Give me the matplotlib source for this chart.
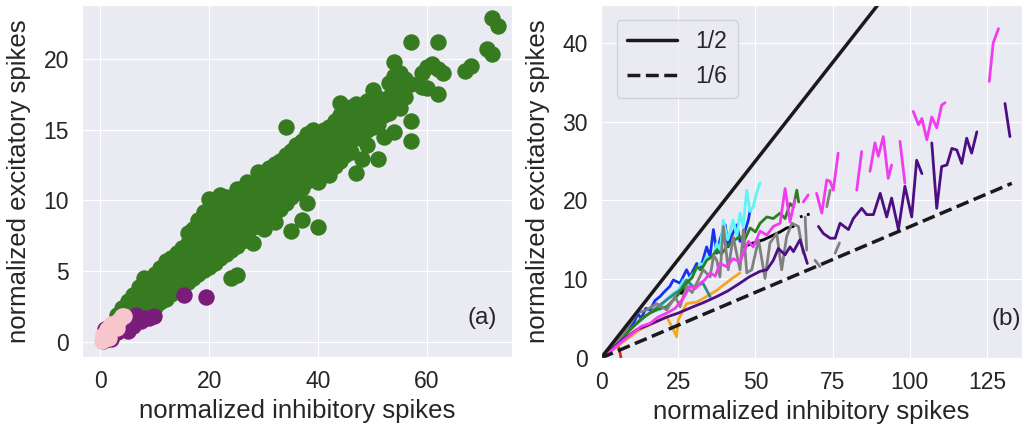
import matplotlib
matplotlib.use("Agg")
import matplotlib.pyplot as plt
import seaborn as sns
import numpy as np

nan = np.nan

# ---- panel (a): scatter clouds ----
# green cloud, typed column by column (x value, list of y values)
green_col_x = [1, 2, 3, 4, 5, 6, 7, 8, 9, 10, 11, 12, 13, 14, 15, 16, 17, 18, 19, 20,
               21, 22, 23, 24, 25, 26, 27, 28, 29, 30, 31, 32, 33, 34, 35, 36, 37, 38,
               39, 40, 41, 42, 43, 44, 45, 46, 47, 48, 49, 50, 51, 52, 53, 54, 55, 56,
               57, 59, 60, 61, 62, 63, 67, 68, 71, 72, 73]
green_col_y = [
    [0.2, 0.5, 0.8], [0.4, 0.8, 1.1], [0.7, 1.1, 1.5, 1.9], [0.9, 1.4, 1.9, 2.4],
    [1.2, 1.8, 2.4, 2.9], [1.4, 2.1, 2.8, 3.3], [1.7, 2.5, 3.2, 3.9], [2.0, 2.8, 3.6, 4.5],
    [2.2, 3.0, 3.8, 4.4], [2.5, 3.3, 4.1, 4.8], [2.8, 3.6, 4.4, 5.2], [3.0, 3.9, 4.7, 5.7],
    [3.4, 4.2, 5.0, 5.9], [3.7, 4.5, 5.4, 6.3], [4.0, 4.8, 5.7, 6.6], [4.2, 5.1, 6.0, 7.0, 7.7],
    [4.5, 5.4, 6.3, 7.3, 8.0], [4.8, 5.7, 6.6, 7.6, 8.6], [5.1, 6.0, 6.9, 8.0, 9.2],
    [5.3, 6.3, 7.2, 8.3, 9.4, 10.1], [5.6, 6.6, 7.5, 8.6, 9.7], [5.9, 6.9, 7.9, 9.0, 10.4],
    [6.2, 7.2, 8.2, 9.3, 10.2], [4.5, 6.5, 7.5, 8.5, 9.6], [4.7, 6.8, 7.9, 8.9, 10.0, 10.8],
    [7.1, 8.2, 9.2, 10.3], [7.4, 8.5, 9.5, 10.6, 11.3], [7.0, 8.1, 9.0, 10.0, 11.0],
    [8.2, 9.2, 10.2, 11.2, 12.0], [8.0, 9.0, 10.0, 11.0, 12.0], [8.8, 10.0, 11.2, 12.3],
    [8.5, 9.5, 10.5, 11.5, 12.6], [9.4, 10.5, 11.6, 12.8], [9.8, 10.9, 12.0, 13.2, 15.2],
    [7.8, 10.2, 11.3, 12.4, 13.5], [10.5, 11.7, 12.8, 13.9], [8.6, 10.9, 12.0, 13.1, 14.2],
    [9.8, 11.4, 12.5, 13.6, 14.7], [11.6, 12.7, 13.8, 15.0], [8.1, 11.3, 12.4, 13.5, 14.5],
    [12.0, 13.1, 14.2, 15.0], [11.8, 12.9, 14.0, 15.2], [12.4, 13.5, 14.5, 15.6],
    [12.8, 13.9, 15.0, 16.0, 16.9], [13.2, 14.3, 15.3, 16.3], [13.4, 14.5, 15.6, 16.6],
    [11.9, 14.4, 15.5, 16.8], [12.9, 14.7, 15.8], [13.9, 15.0, 16.1, 17.0],
    [15.2, 16.2, 17.8], [12.9, 15.4, 16.5, 17.2], [14.5, 16.0, 17.1], [16.2, 17.3, 18.3],
    [14.8, 17.0, 18.8, 19.8], [16.5, 17.8, 19.0], [17.3, 18.6], [14.2, 15.6, 18.2, 21.2],
    [18.0, 19.0], [17.9, 19.4], [19.6], [17.5, 19.3, 21.2], [19.0], [19.1], [19.5],
    [20.7], [22.9, 20.3], [22.3],
]

purple_x = [0.5, 1.0, 1.5, 2.0, 2.5, 3.0, 3.5, 4.0, 4.5, 5.0, 5.5, 6.0, 6.5, 7.0, 7.5,
            8.0, 9.0, 9.8, 15.3, 19.4, 0.8, 3.0, 5.0, 2.0, 6.0]
purple_y = [0.1, 0.2, 0.3, 0.4, 0.6, 0.7, 0.9, 1.0, 1.2, 1.3, 1.4, 1.6, 1.9, 1.6, 1.5,
            1.7, 1.7, 1.8, 3.3, 3.2, 0.9, 1.1, 0.8, 0.2, 1.1]

pink_x = [0.2, 0.5, 0.8, 1.0, 1.3, 1.6, 2.0, 2.3, 2.6, 3.0, 3.3, 3.6, 4.0, 4.3, 1.2,
          2.0, 0.5, 3.0, 1.5]
pink_y = [0.05, 0.2, 0.3, 0.5, 0.6, 0.8, 0.9, 1.1, 1.2, 1.4, 1.5, 1.6, 1.8, 1.8, 0.9,
          1.3, 0.5, 1.0, 0.3]

# ---- panel (b): trajectories ----
indigo_x = [0, 3, 7, 11.6, 16, 21.3, 25, 29.8, 33, 37.5, 41, 45, 48, 51.5, 53.7, 55.8,
            57.4, 59.6, 61.2, 62.3, 64.4, 66.8, nan, 70.4, 72, 74.2, 75.8, 77.4, 80.1,
            81.7, 84.4, 86, 88.2, 90.4, 92.5, 94.1, 96.3, 98.4, 100.6, 102.2, 103.9, nan,
            107.1, 108.7, 110.3, 112, 113.6, 115.2, 116.8, 118.4, 120, 121.7, nan, 130.8, 132.4]
indigo_y = [0, 1.0, 2.3, 3.6, 4.3, 5.2, 5.7, 6.5, 7.0, 7.8, 8.5, 9.5, 10.3, 11.0, 11.2, 12.4,
            13.9, 13.1, 14.1, 13.5, 15.0, 12.0, nan, 16.7, 15.8, 15.2, 15.2, 17.1, 16.3,
            17.7, 19.0, 18.2, 18.2, 20.9, 17.9, 20.3, 16.3, 21.8, 17.9, 25.1, 23.4, nan,
            27.3, 19.0, 24.3, 24.5, 26.6, 26.4, 24.7, 27.9, 26.0, 28.7, nan, 32.3, 28.1]

magenta_x = [0, 2.9, 6.2, 10.4, 13, 15.9, 18.5, 21.3, 24, 26.7, 28.8, 30.5, 32.1, 33.6,
             35.3, 37, 38.5, 40.7, 42.8, 45, 47.7, 49.3, 51.5, 53.7, 55.8, 58, 59.6, 61.2,
             62.8, nan, 65.5, 67.1, nan, 69.8, 71.5, 73.1, 74.2, 75.2, 76.8, nan, 82.8,
             84.4, nan, 87.1, 88.7, 89.8, 91.4, 93, 94.1, nan, 96.8, 98.4, nan, 101.1,
             102.8, 103.9, 105.5, 107.1, 108.7, 110.3, 111.4, nan, 125.7, 127, 128.7]
magenta_y = [0, 0.8, 1.9, 3.2, 4.0, 4.4, 5.2, 5.7, 6.3, 7.6, 9.1, 8.8, 9.5, 9.9,
             10.8, 10.4, 12.0, 11.6, 12.6, 12.2, 14.8, 14.1, 16.1, 15.6, 16.7, 17.1, 21.5,
             17.3, 20.1, nan, 19.8, 20.7, nan, 20.9, 18.4, 22.6, 22.4, 21.3, 26.0, nan,
             21.3, 26.2, nan, 23.7, 27.3, 25.6, 28.1, 22.8, 24.5, nan, 27.5, 22.2, nan,
             31.3, 29.6, 30.4, 27.7, 30.6, 29.2, 32.1, 32.4, nan, 35.1, 40.0, 41.8]

blue_x = [0, 2.9, 6, 8, 10.5, 12, 13, 14.5, 15.9, 17.5, 19.1, 20.5, 22.3, 23.4, 25.6,
          27.7, 28.8, 31, 32.1, 34.2, 35.3, 36.4, 37.5, 38.5, 40.2, 41.2, 42.3, 44, 45,
          46.1, 47.7, 48.3]
blue_y = [0, 1.2, 2.8, 3.2, 4.4, 5.6, 5.0, 6.3, 6.1, 7.3, 7.8, 8.4, 9.1, 9.9, 9.5,
          11.2, 10.3, 12.0, 11.2, 14.1, 12.9, 16.3, 13.3, 15.0, 16.9, 14.1, 15.5, 16.9, 14.8,
          15.4, 17.5, 18.8]

cyan_x = [17, 19.1, 21, 23.4, 25, 26.7, 28, 29, 31, 32.1, 33, 34.2, 36, 37.5, 38.5, 39.6,
          41, 42.8, 44, 45, 46, 47.2, 48.2, 49.3, 50.4, 51.5]
cyan_y = [6.1, 6.1, 7.4, 8.2, 8.6, 9.9, 9.2, 10.3, 11.2, 12.0, 11.8, 12.9, 12.5, 14.6,
          13.6, 17.5, 15.0, 17.5, 15.4, 18.4, 16.7, 21.3, 18.6, 19.2, 21.0, 22.2]

green_x = [3, 6, 10.5, 13, 15.9, 18.5, 21.3, 24.5, 26, 27.7, 29.5, 31, 32.5, 34.2, 36,
           37.5, 39, 40.7, 43, 45, 46.5, 48.3, 50, 51.5, 53.7, 55.8, 58, 59.6, 61.2, 62.3,
           63.4, 64]
green_y = [1.0, 2.2, 4.0, 5.0, 5.7, 6.2, 6.5, 7.8, 8.6, 9.5, 10.2, 11.6, 11.2, 12.4, 12.9,
           13.7, 13.2, 14.1, 14.9, 15.4, 15.0, 16.5, 16.0, 17.1, 17.9, 17.7, 18.4, 17.7,
           19.6, 19.2, 21.3, 19.8]

gray_x = [2, 5, 8.3, 11.6, 14.8, 18, 21.3, 24, 25.6, 27.7, 29.5, 31, 33.1, 35.3, 36.5,
          37.5, 38.5, 39.6, 41.2, 42.8, 45, 46.1, 47.2, 48.8, 51, 53.1, 54.7, 56.9, 58.5,
          60.1, 61.8, 63.9, 65.5, nan, 66.1, 66.6, nan, 69.3, 70.9, nan, 73.1, 74.2, nan,
          75.8, 77.2]
gray_y = [0.8, 2.0, 3.6, 5.7, 6.1, 6.9, 6.1, 7.8, 6.5, 9.1, 8.3, 9.5, 11.2, 10.3, 13.0,
          12.4, 10.3, 16.7, 11.2, 15.4, 11.2, 16.3, 10.8, 11.2, 15.0, 10.1, 14.6, 15.8,
          11.2, 15.4, 17.1, 16.7, 13.3, nan, 17.9, 13.7, nan, 12.4, 11.6, nan, 19.2, 21.3,
          nan, 13.3, 14.6]

black_x = [26, 28, nan, 46.1, 49.3, 52.6, 55.8, 58, 60.1, 62.3]
black_y = [8.2, 9.0, nan, 14.1, 14.6, 15.0, 15.6, 16.0, 16.5, 16.7]
black_tail_x = [64.4, 66, 68.8]
black_tail_y = [17.9, 18.1, 18.4]

orange_x = [3, 7, 12.6, 16.9, 21.3, 23.4, 24.5, 25, 27.7, 31, 34.2, 37.5, 41.8, 45]
orange_y = [0.8, 2.0, 3.6, 4.4, 5.2, 3.6, 2.7, 4.8, 6.9, 7.1, 7.8, 8.6, 9.9, 10.8]

teal_x = [5, 10.5, 15, 20, 24, 25.6, 27.7, 30, 33, 35.3]
teal_y = [2.0, 4.0, 5.5, 7.0, 8.2, 8.6, 9.9, 9.0, 9.5, 7.8]

red_x = [5.5, 6.2, 6.6]
red_y = [1.6, 0.6, -0.3]

yellow_x = [7, 9, 11]
yellow_y = [3.3, 4.3, 5.2]

ref_ratios = [1 / 2, 1 / 6]
ref_labels = ['1/2', '1/6']
ref_x = np.array([0, 133])

# ---- style ----
sns.set_style('darkgrid', {'grid.linewidth': 1.5})
plt.rcParams['font.family'] = ['Liberation Sans', 'DejaVu Sans']
plt.rcParams['axes.labelcolor'] = '#262626'
plt.rcParams['xtick.color'] = '#262626'
plt.rcParams['ytick.color'] = '#262626'

fig = plt.figure(figsize=(10.27, 4.29), dpi=100)
ax1 = fig.add_axes([0.0798, 0.168, 0.4187, 0.8205])
ax2 = fig.add_axes([0.5852, 0.1655, 0.4099, 0.8228])

# panel (a)
gx = [x for x, ys in zip(green_col_x, green_col_y) for _ in ys]
gy = [y for ys in green_col_y for y in ys]
ax1.scatter(gx, gy, s=140, color='#377b21', linewidths=0)
ax1.scatter(purple_x, purple_y, s=140, color='#7a1c7a', linewidths=0)
ax1.scatter(pink_x, pink_y, s=140, color='#f7c5cc', linewidths=0)
ax1.set_xlim(-3.4, 75.6)
ax1.set_ylim(-1.06, 23.8)
ax1.set_xticks([0, 20, 40, 60])
ax1.set_yticks([0, 5, 10, 15, 20])
ax1.set_xlabel('normalized inhibitory spikes', fontsize=18.5, labelpad=4)
ax1.set_ylabel('normalized excitatory spikes', fontsize=18.5, labelpad=9)
ax1.tick_params(labelsize=16.5, pad=6)
ax1.text(0.965, 0.11, '(a)', transform=ax1.transAxes, fontsize=17.5, ha='right', va='center')

# panel (b)
lw = 2.0
ax2.plot(red_x, red_y, color='#d62728', lw=lw)
ax2.plot(yellow_x, yellow_y, color='#f0e040', lw=lw)
ax2.plot(orange_x, orange_y, color='#f5a623', lw=lw)
ax2.plot(blue_x, blue_y, color='#1432f0', lw=lw)
ax2.plot(cyan_x, cyan_y, color='#5cf5f5', lw=lw)
ax2.plot(teal_x, teal_y, color='#2e8b8b', lw=lw)
ax2.plot(green_x, green_y, color='#2e7d1f', lw=lw)
ax2.plot(black_x, black_y, color='black', lw=lw)
ax2.plot(black_tail_x, black_tail_y, color='black', lw=lw, ls=':')
ax2.plot(gray_x, gray_y, color='#808080', lw=lw)
ax2.plot(indigo_x, indigo_y, color='#4b0f82', lw=lw)
ax2.plot(magenta_x, magenta_y, color='#f03cf0', lw=lw)

ax2.plot(ref_x, ref_ratios[0] * ref_x, color='#1a1a1a', lw=2.5, label=ref_labels[0])
ax2.plot(ref_x, ref_ratios[1] * ref_x, color='#1a1a1a', lw=2.5, ls='--', label=ref_labels[1])

ax2.set_xlim(0, 136.3)
ax2.set_ylim(0, 44.8)
ax2.set_xticks([0, 25, 50, 75, 100, 125])
ax2.set_yticks([0, 10, 20, 30, 40])
ax2.set_xlabel('normalized inhibitory spikes', fontsize=18.5, labelpad=4)
ax2.set_ylabel('normalized excitatory spikes', fontsize=18.5, labelpad=9)
ax2.tick_params(labelsize=16.5, pad=6)
ax2.legend(loc='upper left', fontsize=16.5, handlelength=2.2, borderpad=0.45,
           bbox_to_anchor=(0.01, 0.99))
ax2.text(0.998, 0.11, '(b)', transform=ax2.transAxes, fontsize=17.5, ha='right', va='center')

plt.savefig('out.png', dpi=100)
